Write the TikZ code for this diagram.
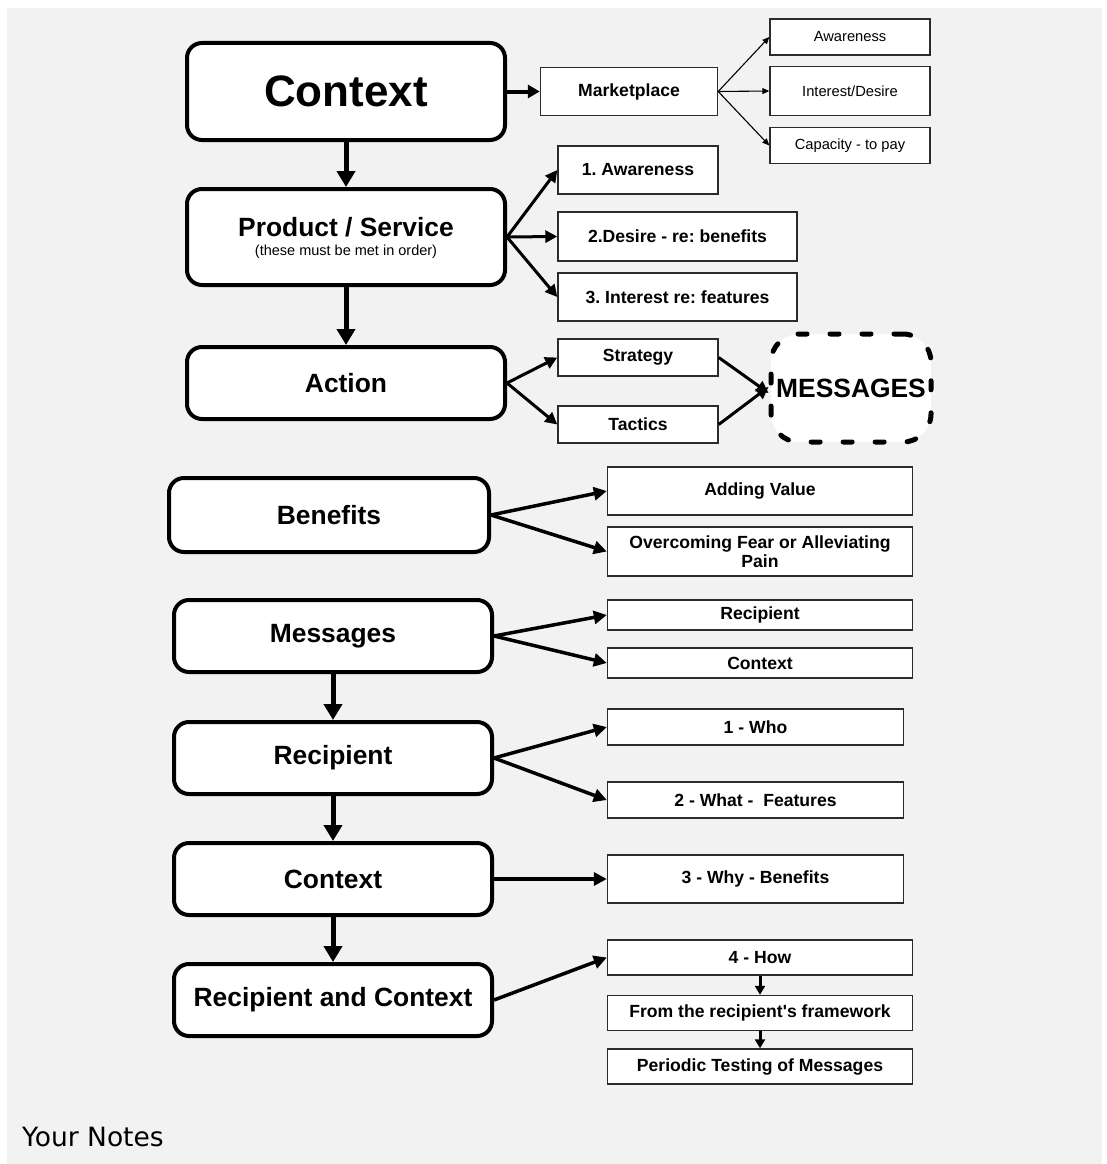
\documentclass[tikz,border=0pt]{standalone}
\usepackage{fontspec}
\setmainfont{Liberation Sans}[Ligatures=TeXOff]
\newfontfamily\notesfont{DejaVu Sans}
\usetikzlibrary{arrows.meta}
\definecolor{pagegray}{HTML}{F2F2F2}
\definecolor{boxline}{HTML}{2B2B2B}
\frenchspacing

\begin{document}
\begin{tikzpicture}[x=1pt,y=-1pt,
  bigbox/.style={draw=black, line width=4pt, rounded corners=15pt, fill=white,
    inner sep=0pt, align=center, font=\bfseries\fontsize{26.4}{30}\selectfont},
  smallbox/.style={draw=boxline, line width=1.4pt, fill=white, inner sep=0pt,
    align=center, font=\bfseries\fontsize{17.6}{19.5}\selectfont},
  thinbox/.style={smallbox, font=\fontsize{14.7}{17}\selectfont},
  heavyarrow/.style={line width=5pt, -{Triangle[length=16pt,width=18pt]}},
  sidearrow/.style={line width=3.5pt, -{Triangle[length=13pt,width=13pt]}},
  fanarrow/.style={line width=3pt, -{Triangle[length=12pt,width=12pt]}},
  hairarrow/.style={line width=1.1pt, -{Triangle[length=7pt,width=6pt]}},
  steparrow/.style={line width=3pt, -{Triangle[length=9pt,width=10pt]}},
]
\useasboundingbox (0,0) rectangle (1107,1164);
\fill[white] (0,0) rectangle (1107,1164);
\fill[pagegray] (7,8) rectangle (1102,1164);

% ---- main column, upper part
\node[bigbox, minimum width=318pt, minimum height=97pt,
  font=\bfseries\fontsize{44}{48}\selectfont] (ctx) at (346,91.5) {Context};
\node[bigbox, minimum width=318pt, minimum height=96pt] (prod) at (346,237) {};
\node[anchor=base, font=\bfseries\fontsize{26.4}{30}\selectfont] (prodtitle) at (346,236.5) {Product / Service};
\node[anchor=base, font=\fontsize{14.5}{17}\selectfont] (prodnote) at (346,255.5) {(these must be met in order)};
\node[bigbox, minimum width=318pt, minimum height=72pt] (act) at (346,383) {Action};

% ---- marketplace branch
\node[smallbox, minimum width=177pt, minimum height=48pt] (mkt) at (629,91.5) {Marketplace};
\node[thinbox, minimum width=160pt, minimum height=36pt] (aw) at (850,37) {Awareness};
\node[thinbox, minimum width=160pt, minimum height=49pt] (intd) at (850,91) {Interest/Desire};
\node[thinbox, minimum width=160pt, minimum height=36.5pt] (cap) at (850,145.5) {Capacity - to pay};

% ---- product branch
\node[smallbox, minimum width=160pt, minimum height=48pt] (aw1) at (638,170) {1. Awareness};
\node[smallbox, minimum width=239pt, minimum height=49pt] (des2) at (677.5,236.5) {2.Desire - re: benefits};
\node[smallbox, minimum width=239pt, minimum height=48pt] (int3) at (677.5,297) {3. Interest re: features};

% ---- action branch
\node[smallbox, minimum width=160pt, minimum height=37pt] (strat) at (638,357.5) {Strategy};
\node[smallbox, minimum width=160pt, minimum height=37pt] (tact) at (638,424.5) {Tactics};
\node[draw=black, fill=white, line width=5pt, dash pattern=on 9pt off 23pt,
  line cap=round, rounded corners=28pt, minimum width=160pt, minimum height=108pt,
  inner sep=0pt, font=\bfseries\fontsize{26.4}{30}\selectfont] (msgs) at (851,388) {MESSAGES};

% ---- lower column
\node[bigbox, minimum width=320pt, minimum height=74pt] (ben) at (329,515) {Benefits};
\node[bigbox, minimum width=318pt, minimum height=72pt] (mes) at (333,636) {Messages};
\node[bigbox, minimum width=318pt, minimum height=72pt] (rec) at (333,758) {Recipient};
\node[bigbox, minimum width=318pt, minimum height=72pt] (ctxb) at (333,879) {Context};
\node[bigbox, minimum width=318pt, minimum height=72pt] (rac) at (333,1000) {Recipient and Context};

% ---- lower branches
\node[smallbox, minimum width=305pt, minimum height=48pt] (addv) at (760,491) {Adding Value};
\node[smallbox, minimum width=305pt, minimum height=49pt] (fear) at (760,551.5) {Overcoming Fear or Alleviating\\Pain};
\node[smallbox, minimum width=305pt, minimum height=30pt] (recs) at (760,615) {Recipient};
\node[smallbox, minimum width=305pt, minimum height=30pt] (ctxs) at (760,663) {Context};
\node[smallbox, minimum width=296pt, minimum height=36pt] (who) at (755.5,727) {1 - Who};
\node[smallbox, minimum width=296pt, minimum height=36pt] (what) at (755.5,800) {2 - What -\ \ Features};
\node[smallbox, minimum width=296pt, minimum height=48pt] (why) at (755.5,879) {3 - Why - Benefits};
\node[smallbox, minimum width=305pt, minimum height=35pt] (how) at (760,957.5) {4 - How};
\node[smallbox, minimum width=305pt, minimum height=35pt] (frame) at (760,1013) {From the recipient's framework};
\node[smallbox, minimum width=305pt, minimum height=35pt] (test) at (760,1066.5) {Periodic Testing of Messages};

% ---- connectors
\draw[heavyarrow] (ctx.south) -- (prod.north);
\draw[heavyarrow] (prod.south) -- (act.north);
\draw[heavyarrow] (mes.south) -- (rec.north);
\draw[heavyarrow] (rec.south) -- (ctxb.north);
\draw[heavyarrow] (ctxb.south) -- (rac.north);

\draw[line width=4pt, -{Triangle[length=12pt,width=13pt]}] (ctx.east) -- (mkt.west);
\draw[hairarrow] (mkt.east) -- (aw.west);
\draw[hairarrow] (mkt.east) -- (intd.west);
\draw[hairarrow] (mkt.east) -- (cap.west);

\draw[fanarrow] (prod.east) -- (aw1.west);
\draw[fanarrow] (prod.east) -- (des2.west);
\draw[fanarrow] (prod.east) -- (int3.west);

\draw[fanarrow] (act.east) -- (strat.west);
\draw[fanarrow] (act.east) -- (tact.west);
\draw[fanarrow] (strat.east) -- ([yshift=-5pt]msgs.west);
\draw[fanarrow] (tact.east) -- ([yshift=1pt]msgs.west);

\draw[sidearrow] (ben.east) -- (addv.west);
\draw[sidearrow] (ben.east) -- (fear.west);
\draw[sidearrow] (mes.east) -- (recs.west);
\draw[sidearrow] (mes.east) -- (ctxs.west);
\draw[sidearrow] (rec.east) -- (who.west);
\draw[sidearrow] (rec.east) -- (what.west);
\draw[sidearrow] (ctxb.east) -- (why.west);
\draw[sidearrow] (rac.east) -- (how.west);
\draw[steparrow] (how.south) -- (frame.north);
\draw[steparrow] (frame.south) -- (test.north);

% ---- footer
\node[anchor=base west, inner sep=0pt, font=\notesfont\fontsize{26.5}{30}\selectfont] (notes) at (22,1146) {Your Notes};
\end{tikzpicture}
\end{document}
